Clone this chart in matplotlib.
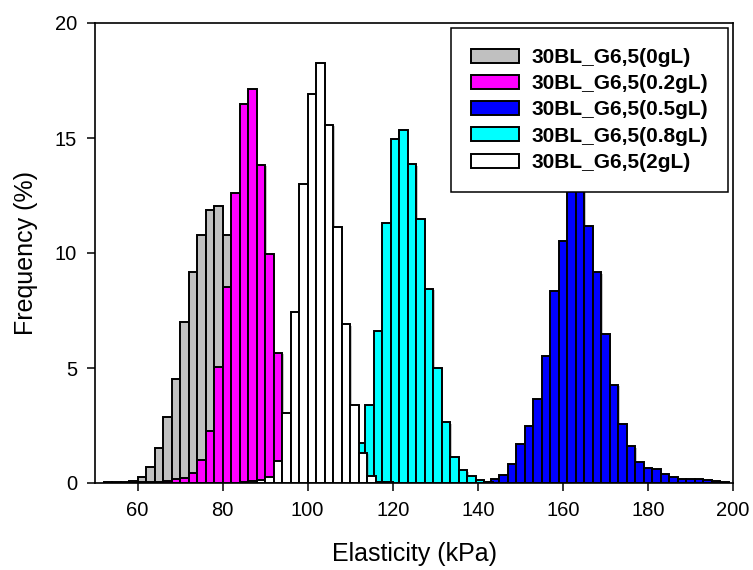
import numpy as np
import matplotlib
matplotlib.use("Agg")
import matplotlib.pyplot as plt
import matplotlib.patheffects as pe

plt.rcParams['font.family'] = ['Liberation Sans', 'DejaVu Sans']

bin_width = 2.0

# 30BL_G6,5(0gL) - gray
gray_left = np.arange(52, 98, 2)
gray_vals = [0.03, 0.04, 0.05, 0.10, 0.27, 0.68, 1.51, 2.86, 4.54, 7.00, 9.17, 10.78,
             11.87, 12.04, 10.78, 8.6, 6.2, 3.9, 2.2, 1.1, 0.5, 0.2, 0.08]

# 30BL_G6,5(0.2gL) - magenta
mag_left = np.arange(58, 104, 2)
mag_vals = [0.02, 0.03, 0.05, 0.06, 0.10, 0.16, 0.23, 0.42, 0.98, 2.28, 5.03, 8.51,
            12.62, 16.48, 17.12, 13.83, 9.94, 5.67, 2.4, 0.9, 0.35, 0.12, 0.05]

# 30BL_G6,5(0.5gL) - blue
blue_left = np.arange(141, 199, 2)
blue_vals = [0.05, 0.16, 0.33, 0.81, 1.70, 2.48, 3.64, 5.54, 8.36, 10.54, 13.3, 13.9,
             11.17, 9.16, 6.49, 4.26, 2.58, 1.60, 0.93, 0.66, 0.60, 0.38, 0.27, 0.19,
             0.19, 0.16, 0.13, 0.10, 0.03]

# 30BL_G6,5(0.8gL) - cyan
cyan_left = np.arange(105.5, 143.5, 2)
cyan_vals = [0.05, 0.2, 0.6, 1.75, 3.39, 6.62, 11.32, 14.96, 15.35, 13.86, 11.46, 8.43,
             4.99, 2.64, 1.15, 0.56, 0.30, 0.13, 0.06]

# 30BL_G6,5(2gL) - white
white_left = np.arange(84, 120, 2)
white_vals = [0.05, 0.10, 0.15, 0.27, 0.97, 3.03, 7.42, 12.99, 16.91, 18.25, 15.57, 11.14,
              6.90, 3.39, 1.32, 0.30, 0.06, 0.03]

labels = ["30BL_G6,5(0gL)", "30BL_G6,5(0.2gL)", "30BL_G6,5(0.5gL)",
          "30BL_G6,5(0.8gL)", "30BL_G6,5(2gL)"]
colors = ["#C0C0C0", "#FF00FF", "#0000FF", "#00FFFF", "#FFFFFF"]
lefts = [gray_left, mag_left, blue_left, cyan_left, white_left]
values = [gray_vals, mag_vals, blue_vals, cyan_vals, white_vals]

fig = plt.figure(figsize=(7.53, 5.70), dpi=100)
ax = fig.add_axes([95/753, 1-483/570, 638/753, 460/570])

shadow = [pe.SimplePatchShadow(offset=(1.0, -1.0), shadow_rgbFace='#808080', alpha=0.45),
          pe.Normal()]

for i, (label, left, vals, color) in enumerate(zip(labels, lefts, values, colors)):
    bars = ax.bar(left, vals, width=bin_width, align='edge', color=color,
                  edgecolor='black', linewidth=1.4, label=label, zorder=2+i)
    for b in bars:
        b.set_path_effects(shadow)

ax.set_xlim(50, 200)
ax.set_ylim(0, 20)
ax.set_xticks([60, 80, 100, 120, 140, 160, 180, 200])
ax.set_yticks([0, 5, 10, 15, 20])
ax.tick_params(axis='both', direction='out', length=6, width=1.1, labelsize=14.5,
               top=False, right=False, pad=7)
for s in ax.spines.values():
    s.set_linewidth(1.2)

ax.set_xlabel("Elasticity (kPa)", fontsize=18, labelpad=16)
ax.set_ylabel("Frequency (%)", fontsize=18, labelpad=12)

leg = ax.legend(loc='upper right', bbox_to_anchor=(0.9922, 0.989), borderaxespad=0,
                prop={'weight': 'bold', 'size': 15}, fancybox=False, framealpha=1,
                edgecolor='black', handlelength=2.3, handleheight=0.66,
                handletextpad=0.6, labelspacing=0.35, borderpad=0.95)
leg.get_frame().set_linewidth(1.1)
leg.set_zorder(20)
for h in leg.legend_handles:
    h.set_path_effects([])

fig.savefig("out.png", dpi=100)
